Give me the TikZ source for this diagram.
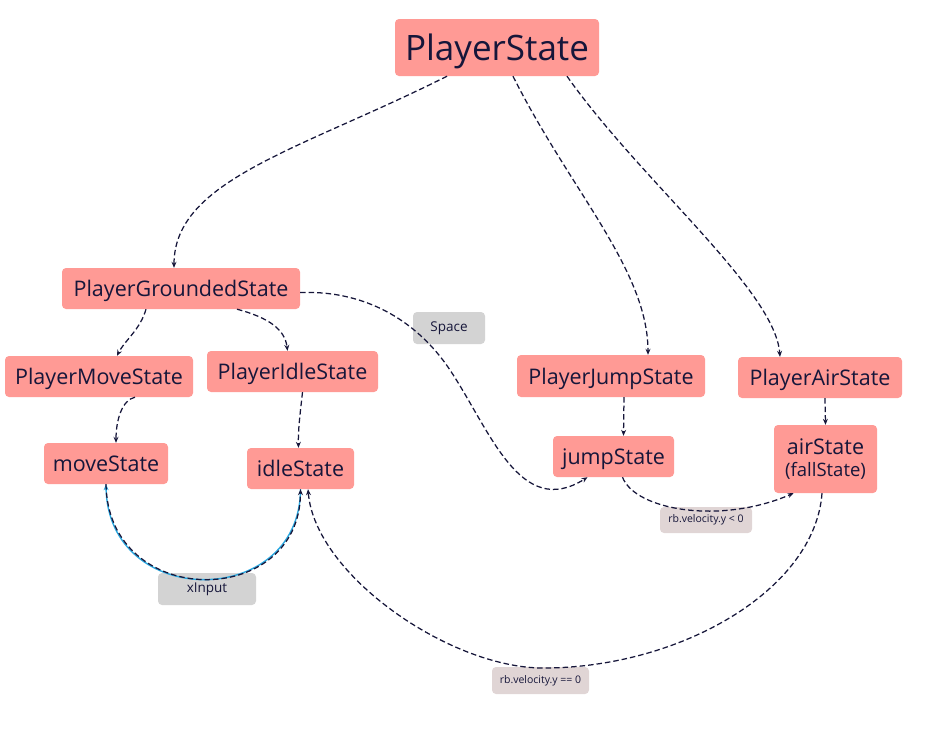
\documentclass[tikz,border=0pt]{standalone}
\usepackage{fontspec}
\setmainfont{Open Sans}
\usetikzlibrary{arrows.meta}
\definecolor{nodefill}{HTML}{FF9A95}
\definecolor{ink}{HTML}{16163A}
\definecolor{lblgray}{HTML}{D3D3D3}
\definecolor{lblrose}{HTML}{E0D5D5}
\definecolor{hlblue}{HTML}{2AA8E0}
\begin{document}
\begin{tikzpicture}[x=1pt,y=-1pt,
  state/.style={fill=nodefill, rounded corners=4pt, inner sep=0pt, text=ink, text height=16pt, text depth=0pt, font=\fontsize{21.5}{24}\selectfont},
  lbl/.style={rounded corners=4pt, inner sep=0pt, text=ink, font=\fontsize{13.5}{15}\selectfont},
  small/.style={font=\fontsize{10.5}{13}\selectfont},
  edge/.style={ink, dash pattern=on 5.5pt off 3pt, line width=1.25pt, -{Stealth[length=6pt,width=5pt]}},
  hledge/.style={hlblue, line width=1.4pt, -{Stealth[length=6pt,width=5pt]}}]
\useasboundingbox (0,0) rectangle (941,737);

% states
\node[state, minimum width=204pt, minimum height=57pt, text height=25pt, font=\fontsize{35}{40}\selectfont] (PS) at (497,47.5) {PlayerState};
\node[state, minimum width=238pt, minimum height=41pt] (PGS) at (181,288.5) {PlayerGroundedState};
\node[state, minimum width=188pt, minimum height=41pt] (PMS) at (99,376.5) {PlayerMoveState};
\node[state, minimum width=171pt, minimum height=41pt] (PIS) at (292.5,371.5) {PlayerIdleState};
\node[state, minimum width=124pt, minimum height=41pt] (MS) at (106,463.5) {moveState};
\node[state, minimum width=107pt, minimum height=41pt] (IS) at (300.5,468.5) {idleState};
\node[state, minimum width=188pt, minimum height=42pt] (PJS) at (611,376) {PlayerJumpState};
\node[state, minimum width=164pt, minimum height=41pt] (PAS) at (820,377.5) {PlayerAirState};
\node[state, minimum width=121pt, minimum height=41pt] (JS) at (613.5,456.5) {jumpState};
\node[state, minimum width=103pt, minimum height=68pt, text height=, text depth=, align=center] (AS) at (825.5,459) {airState\\[-2pt]{\fontsize{18.5}{20}\selectfont (fallState)}};

% labels
\node[lbl, fill=lblgray, minimum width=72pt, minimum height=32pt] (LSpace) at (449,328) {Space};
\node[lbl, fill=lblgray, minimum width=98pt, minimum height=32pt] (LX) at (207,589) {xInput};
\node[lbl, small, fill=lblrose, minimum width=92pt, minimum height=26pt] (LR1) at (706,520) {rb.velocity.y < 0};
\node[lbl, small, fill=lblrose, minimum width=97pt, minimum height=27pt] (LR2) at (540.5,680.5) {rb.velocity.y == 0};

% edges
\draw[edge] ([xshift=-50pt]PS.south) .. controls (300,150) and (174,180) .. ([xshift=-7pt]PGS.north);
\draw[edge] ([xshift=16pt]PS.south) .. controls (570,190) and (648,270) .. ([xshift=37pt]PJS.north);
\draw[edge] ([xshift=70pt]PS.south) .. controls (640,180) and (775,290) .. ([xshift=-40pt]PAS.north);
\draw[edge] ([xshift=-35pt]PGS.south) .. controls (140,330) and (125,340) .. ([xshift=18pt]PMS.north);
\draw[edge] ([xshift=56pt]PGS.south) .. controls (270,318) and (285,330) .. ([xshift=-5pt]PIS.north);
\draw[edge] ([xshift=36pt]PMS.south) .. controls (122,400) and (116,420) .. ([xshift=10pt]MS.north);
\draw[edge] ([xshift=10pt]PIS.south) .. controls (300,415) and (298,430) .. ([xshift=-2pt]IS.north);
\draw[edge] ([yshift=-4pt]PGS.east) .. controls (370,290) and (420,325) .. (450,370) .. controls (490,430) and (520,520) .. ([xshift=-26pt]JS.south);
\draw[edge] ([xshift=13pt]PJS.south) -- ([xshift=10pt]JS.north);
\draw[edge] ([xshift=5pt]PAS.south) -- (AS.north);
\draw[edge] ([xshift=9pt]JS.south) .. controls (635,510) and (720,525) .. ([xshift=-32pt]AS.south);
\draw[hledge] (IS.south) .. controls (300,610) and (108,610) .. (MS.south);
\draw[edge] (MS.south) .. controls (108,610) and (300,610) .. (IS.south);
\draw[edge] ([xshift=-3.5pt]AS.south) .. controls (815,590) and (680,668) .. (543,668) .. controls (450,668) and (315,575) .. ([xshift=7.5pt]IS.south);
\end{tikzpicture}
\end{document}
